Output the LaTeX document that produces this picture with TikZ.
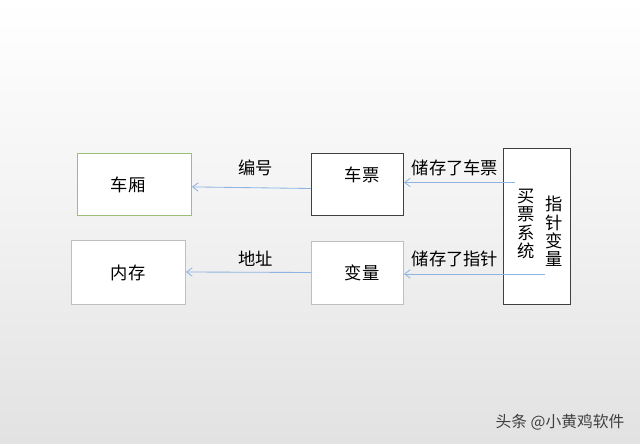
\documentclass[tikz,border=0pt]{standalone}
\usepackage{fontspec}
\newfontfamily\cjk{Noto Sans CJK SC}
\usetikzlibrary{arrows.meta}
\definecolor{bggray}{HTML}{E2E2E2}
\definecolor{linkblue}{HTML}{8EB4E3}
\definecolor{boxgreen}{HTML}{9DBE78}
\definecolor{boxdark}{HTML}{404040}
\definecolor{boxlight}{HTML}{BFBFBF}
\begin{document}
\begin{tikzpicture}[
    x=0.025cm, y=-0.025cm,
    box/.style={draw, fill=white, line width=0.6pt, inner sep=0pt},
    txt/.style={font=\cjk\fontsize{12.3}{13}\selectfont, inner sep=0pt},
    col/.style={txt, align=center},
    link/.style={-{Straight Barb[length=4pt,width=6pt]}, line width=0.6pt, linkblue}
]
% background
\useasboundingbox (0,0) rectangle (640,444);
\shade[top color=white, bottom color=bggray, middle color=white!55!bggray] (0,0) rectangle (640,444);

% boxes, upper row
\node[box, draw=boxgreen, minimum width=114*0.025cm, minimum height=62*0.025cm] (xiang) at (134.5,184.5) {};
\node[box, draw=boxdark, minimum width=92*0.025cm, minimum height=62*0.025cm] (piao) at (357.5,184.5) {};
\node[txt] (xiangt) at (128,185) {车厢};
\node[txt] (piaot) at (362,175) {车票};

% boxes, lower row
\node[box, draw=boxlight, minimum width=114*0.025cm, minimum height=64*0.025cm] (cun) at (128.5,272) {};
\node[box, draw=boxlight, minimum width=92*0.025cm, minimum height=63*0.025cm] (bian) at (357.5,272.5) {};
\node[txt] (cunt) at (128,273) {内存};
\node[txt] (biant) at (362,273) {变量};

% ticket system
\node[box, draw=boxdark, minimum width=67*0.025cm, minimum height=156*0.025cm] (sys) at (537.3,226.2) {};
\node[col] (syst) at (526.5,224) {买\\票\\系\\统};
\node[col] (ptrt) at (554,231.5) {指\\针\\变\\量};
\coordinate (s1) at (515,182.5);
\coordinate (s2) at (545,274);

% links
\draw[link] ([yshift=-0.1cm]piao.west) -- ([yshift=-0.06cm]xiang.east);
\draw[link] (bian.west) -- (cun.east);
\draw[link] (s1) -- (s1 -| piao.east);
\draw[link] (s2) -- (s2 -| bian.east);
\node[txt] (bianhao) at (255.5,167.5) {编号};
\node[txt] (dizhi) at (255.5,258.5) {地址};
\node[txt] (cunpiao) at (455,167.5) {储存了车票};
\node[txt] (cunzhen) at (455,258.5) {储存了指针};

% watermark
\node[font=\cjk\fontsize{11.2}{12}\selectfont, text=black!75, inner sep=0pt] (mark) at (560,422.5) {头条 @小黄鸡软件};
\end{tikzpicture}
\end{document}
